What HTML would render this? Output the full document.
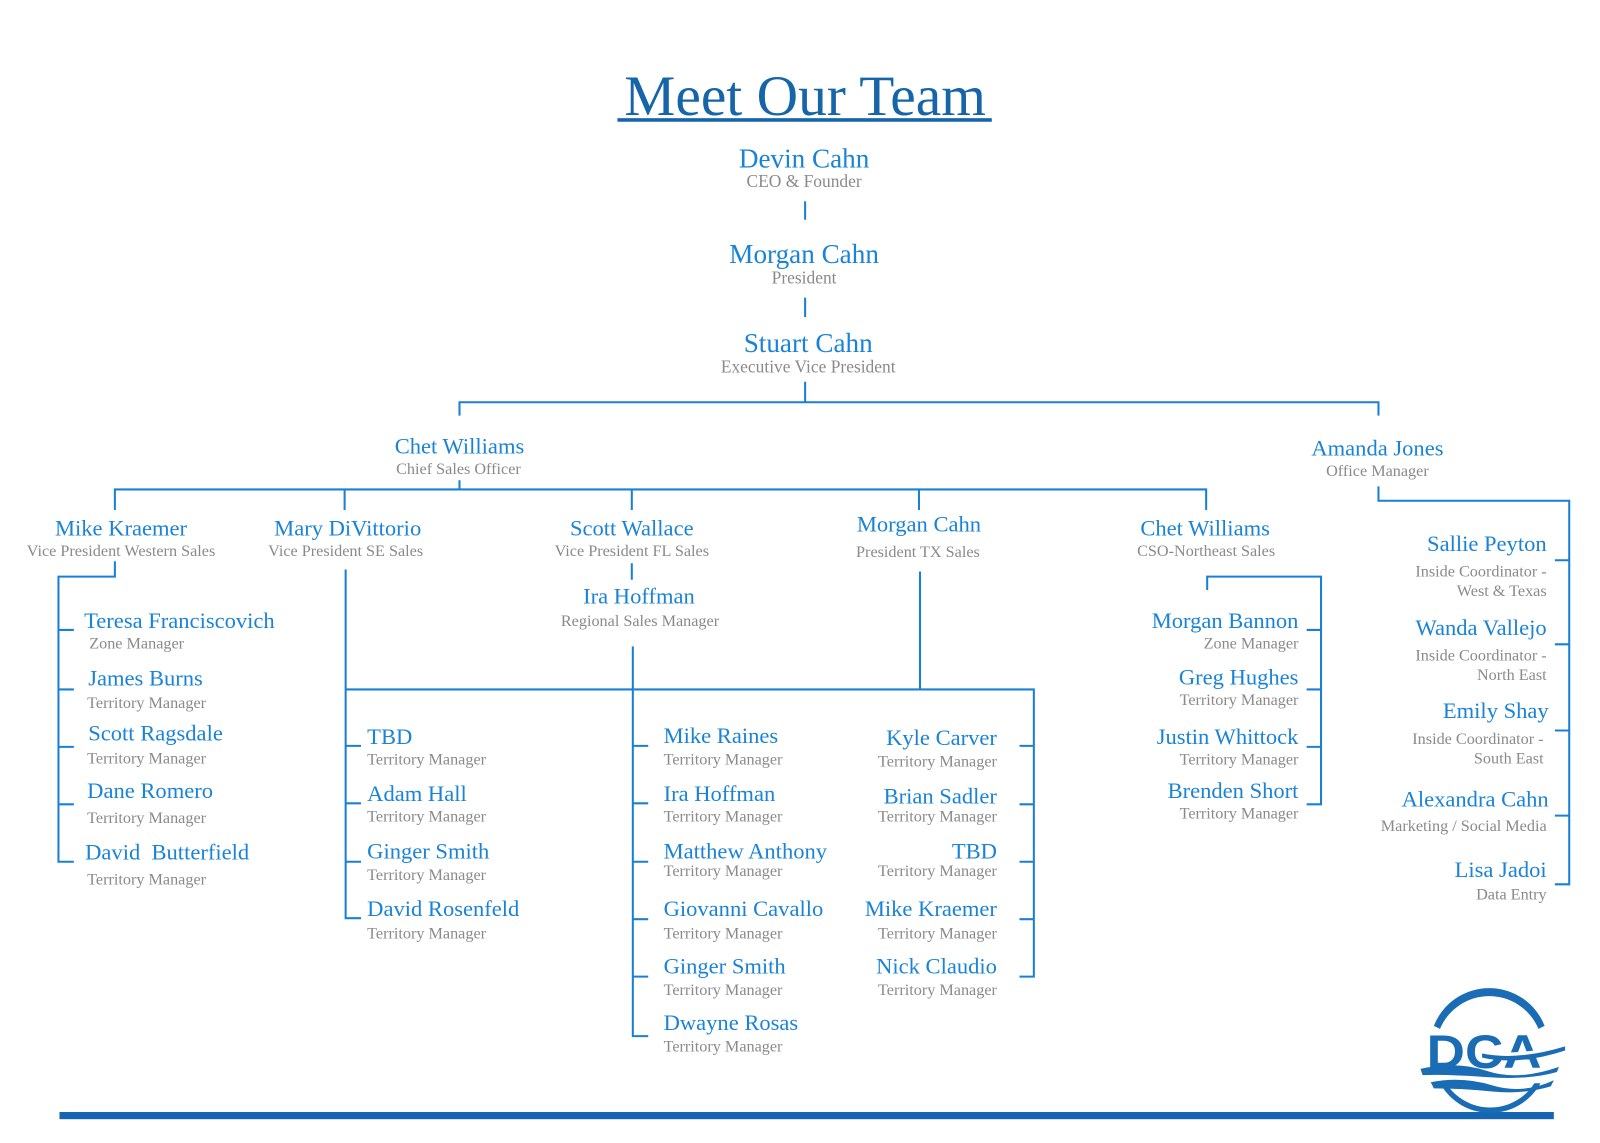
<!DOCTYPE html>
<html><head><meta charset="utf-8"><style>
html,body{margin:0;padding:0;background:#fff;}
svg{display:block;}
.n{font-family:"Liberation Serif",serif;font-size:22px;fill:#1a83d8;}
.t{font-family:"Liberation Serif",serif;font-size:26.5px;fill:#1a83d8;}
.s{font-family:"Liberation Serif",serif;font-size:15.8px;fill:#8a8a8a;}
.st{font-family:"Liberation Serif",serif;font-size:17px;fill:#8a8a8a;}
.l{stroke:#1a80d6;stroke-width:2;fill:none;}
</style></head><body>
<svg width="1600" height="1143" viewBox="0 0 1560 1114" xmlns="http://www.w3.org/2000/svg">
<text x="785" y="112" text-anchor="middle" font-family="Liberation Serif,serif" font-size="56" fill="#1565a8">Meet Our Team</text>
<rect x="602" y="115" width="365" height="3.5" fill="#1565a8"/>

<g text-anchor="middle">
<text class="t" x="784" y="163">Devin Cahn</text>
<text class="st" x="784" y="182">CEO &amp; Founder</text>
<text class="t" x="784" y="256">Morgan Cahn</text>
<text class="st" x="784" y="276">President</text>
<text class="t" x="788" y="343">Stuart Cahn</text>
<text class="st" x="788" y="363">Executive Vice President</text>
<text class="n" x="448" y="442">Chet Williams</text>
<text class="s" x="447" y="462">Chief Sales Officer</text>
<text class="n" x="1343" y="444">Amanda Jones</text>
<text class="s" x="1343" y="464">Office Manager</text>
<text class="n" x="118" y="522">Mike Kraemer</text>
<text class="s" x="118" y="542">Vice President Western Sales</text>
<text class="n" x="339" y="522">Mary DiVittorio</text>
<text class="s" x="337" y="542">Vice President SE Sales</text>
<text class="n" x="616" y="522">Scott Wallace</text>
<text class="s" x="616" y="542">Vice President FL Sales</text>
<text class="n" x="896" y="518">Morgan Cahn</text>
<text class="s" x="895" y="543">President TX Sales</text>
<text class="n" x="1175" y="522">Chet Williams</text>
<text class="s" x="1176" y="542">CSO-Northeast Sales</text>
<text class="n" x="623" y="588">Ira Hoffman</text>
<text class="s" x="624" y="610">Regional Sales Manager</text>
</g>

<path class="l" d="M785 196V214 M785 290V309 M785 372V392 M448 405V392H1344V405 M448 468V477 M112 497V477H1176V497 M336 477V497 M616 477V497 M896 477V497"/>
<path class="l" d="M1344 474V488H1530V862H1516 M1516 546H1530 M1516 628H1530 M1516 712H1530 M1516 795H1530"/>
<path class="l" d="M112 547V562H57V840H72 M57 614H72 M57 672H72 M57 728H72 M57 784H72"/>
<path class="l" d="M337 555V895H352 M337 727H352 M337 783H352 M337 840H352 M337 672H1008V952H994 M994 727H1008 M994 784H1008 M994 840H1008 M994 896H1008"/>
<path class="l" d="M616 549V565 M617 630V1010H632 M617 727H632 M617 783H632 M617 840H632 M617 896H632 M617 952H632"/>
<path class="l" d="M897 557V672"/>
<path class="l" d="M1177 575V562H1288V784H1274 M1274 614H1288 M1274 672H1288 M1274 728H1288"/>

<text class="n" x="82" y="612">Teresa Franciscovich</text><text class="s" x="87" y="632">Zone Manager</text>
<text class="n" x="86" y="668">James Burns</text><text class="s" x="85" y="690">Territory Manager</text>
<text class="n" x="86" y="722">Scott Ragsdale</text><text class="s" x="85" y="744">Territory Manager</text>
<text class="n" x="85" y="778">Dane Romero</text><text class="s" x="85" y="802">Territory Manager</text>
<text class="n" x="83" y="838" xml:space="preserve">David  Butterfield</text><text class="s" x="85" y="862">Territory Manager</text>
<text class="n" x="358" y="725">TBD</text><text class="s" x="358" y="745">Territory Manager</text>
<text class="n" x="358" y="781">Adam Hall</text><text class="s" x="358" y="801">Territory Manager</text>
<text class="n" x="358" y="837">Ginger Smith</text><text class="s" x="358" y="858">Territory Manager</text>
<text class="n" x="358" y="893">David Rosenfeld</text><text class="s" x="358" y="915">Territory Manager</text>
<text class="n" x="647" y="724">Mike Raines</text><text class="s" x="647" y="745">Territory Manager</text>
<text class="n" x="647" y="781">Ira Hoffman</text><text class="s" x="647" y="801">Territory Manager</text>
<text class="n" x="647" y="837">Matthew Anthony</text><text class="s" x="647" y="854">Territory Manager</text>
<text class="n" x="647" y="893">Giovanni Cavallo</text><text class="s" x="647" y="915">Territory Manager</text>
<text class="n" x="647" y="949">Ginger Smith</text><text class="s" x="647" y="970">Territory Manager</text>
<text class="n" x="647" y="1004">Dwayne Rosas</text><text class="s" x="647" y="1025">Territory Manager</text>
<g text-anchor="end">
<text class="n" x="972" y="726">Kyle Carver</text><text class="s" x="972" y="747">Territory Manager</text>
<text class="n" x="972" y="783">Brian Sadler</text><text class="s" x="972" y="801">Territory Manager</text>
<text class="n" x="972" y="837">TBD</text><text class="s" x="972" y="854">Territory Manager</text>
<text class="n" x="972" y="893">Mike Kraemer</text><text class="s" x="972" y="915">Territory Manager</text>
<text class="n" x="972" y="949">Nick Claudio</text><text class="s" x="972" y="970">Territory Manager</text>
<text class="n" x="1266" y="612">Morgan Bannon</text><text class="s" x="1266" y="632">Zone Manager</text>
<text class="n" x="1266" y="667">Greg Hughes</text><text class="s" x="1266" y="687">Territory Manager</text>
<text class="n" x="1266" y="725">Justin Whittock</text><text class="s" x="1266" y="745">Territory Manager</text>
<text class="n" x="1266" y="778">Brenden Short</text><text class="s" x="1266" y="798">Territory Manager</text>
<text class="n" x="1508" y="537">Sallie Peyton</text><text class="s" x="1508" y="562">Inside Coordinator -</text><text class="s" x="1508" y="581">West &amp; Texas</text>
<text class="n" x="1508" y="619">Wanda Vallejo</text><text class="s" x="1508" y="644">Inside Coordinator -</text><text class="s" x="1508" y="663">North East</text>
<text class="n" x="1510" y="700">Emily Shay</text><text class="s" x="1505" y="725">Inside Coordinator -</text><text class="s" x="1505" y="744">South East</text>
<text class="n" x="1510" y="786">Alexandra Cahn</text><text class="s" x="1508" y="810">Marketing / Social Media</text>
<text class="n" x="1508" y="855">Lisa Jadoi</text><text class="s" x="1508" y="877">Data Entry</text>
</g>

<rect x="58" y="1084" width="1457" height="7" fill="#1565b0"/>

<g fill="#1a6db5">
<path d="M1398 1000 A58 58 0 0 1 1506 1000 L1500 1003 A52 52 0 0 0 1404 1003 Z"/>
<path d="M1404 1056 A56 56 0 0 0 1502 1056 L1496 1056 A51 51 0 0 1 1410 1056 Z"/>
<text x="1391" y="1041" font-family="Liberation Sans,sans-serif" font-weight="bold" font-size="46" fill="#1a6db5" textLength="112" lengthAdjust="spacingAndGlyphs">DCA</text>
<path d="M1385 1042 Q1420 1034 1450 1044 T1520 1040 L1518 1045 Q1490 1053 1450 1050 T1387 1048 Z"/>
<path d="M1395 1055 Q1425 1049 1455 1058 T1515 1053 L1512 1059 Q1485 1067 1455 1064 T1398 1061 Z"/>
<path d="M1440 1024 Q1480 1030 1526 1018 L1526 1022 Q1480 1037 1440 1028 Z" fill="#fff"/>
<path d="M1445 1027 Q1480 1034 1526 1020 L1526 1024 Q1480 1039 1445 1031 Z"/>
</g>
</svg>
</body></html>
